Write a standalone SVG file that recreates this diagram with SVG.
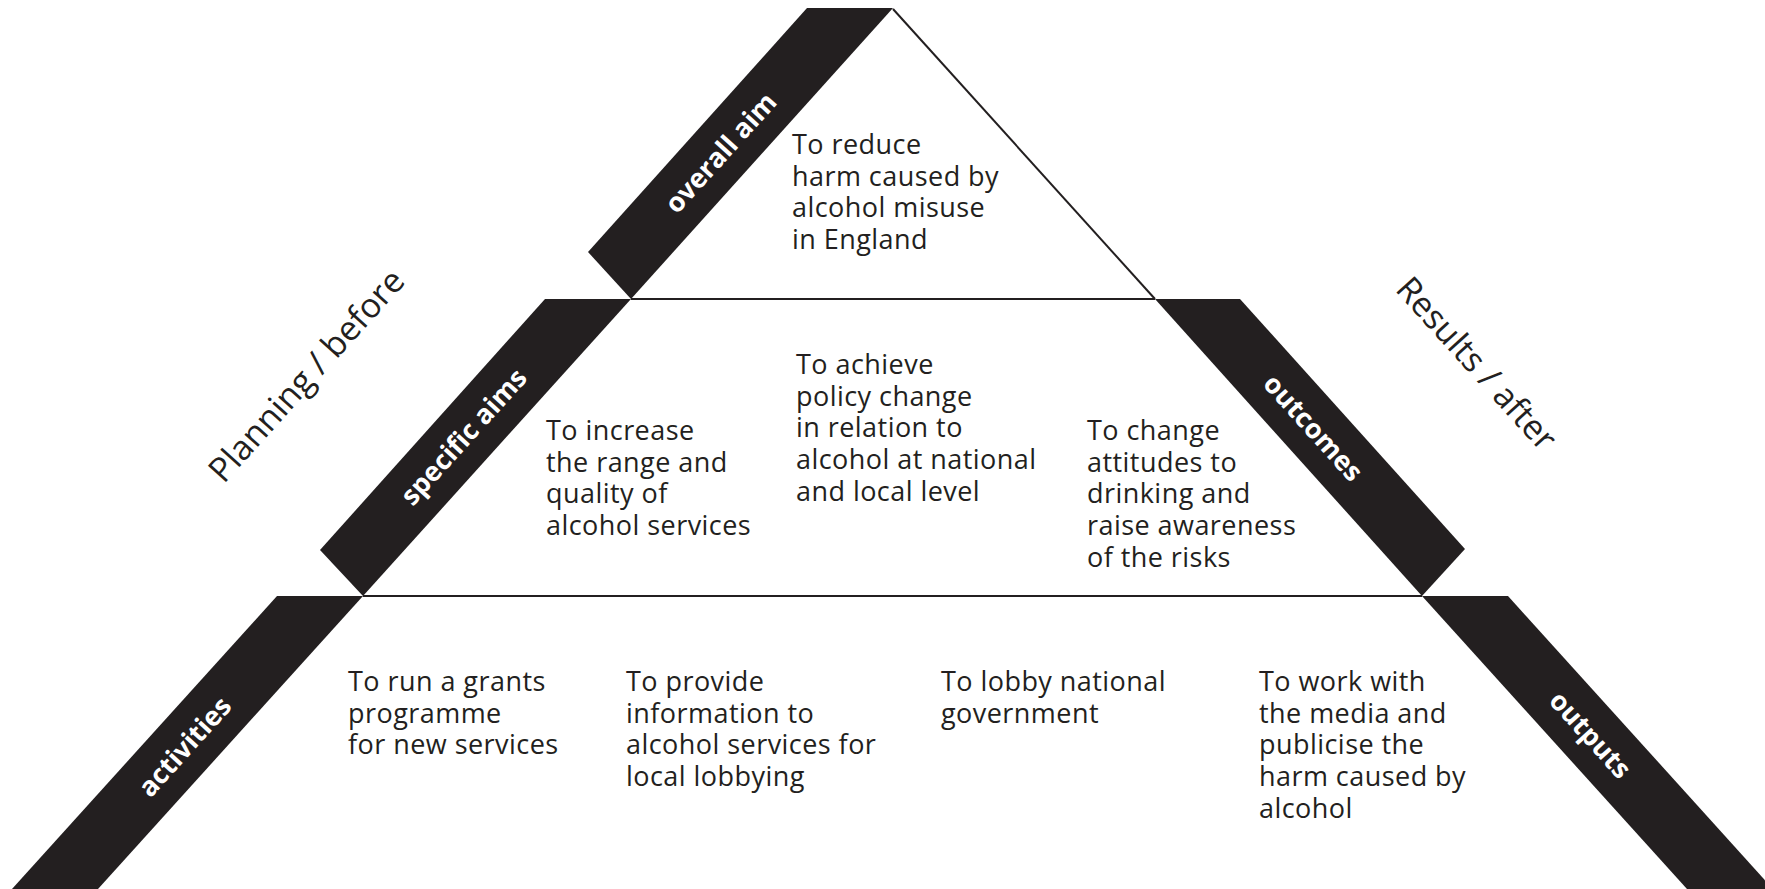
<svg xmlns="http://www.w3.org/2000/svg" width="1765" height="889" viewBox="0 0 1765 889">
  <style>
    .band { fill: #231f20; }
    .edge { stroke: #231f20; stroke-width: 2; fill: none; }
    .body { font-family: "Open Sans", "Noto Sans", "Liberation Sans", sans-serif; font-size: 27px; letter-spacing: 0.45px; fill: #231f20; }
    .tag { font-family: "Open Sans", "Noto Sans", "Liberation Sans", sans-serif; font-size: 27px; font-weight: bold; fill: #ffffff; text-anchor: middle; }
    .side { font-family: "Open Sans", "Noto Sans", "Liberation Sans", sans-serif; font-size: 34px; fill: #231f20; text-anchor: middle; }
  </style>
  <rect width="1765" height="889" fill="#ffffff"/>

  <!-- outline of the pyramid tiers -->
  <g id="connectors">
    <line class="edge" x1="893" y1="9" x2="1155" y2="299"/>
    <line class="edge" x1="631" y1="299" x2="1155" y2="299"/>
    <line class="edge" x1="363" y1="596" x2="1422" y2="596"/>
  </g>

  <!-- left axis caption -->
  <g id="planning-before">
    <text class="side" transform="translate(307,376) rotate(-47.9)" y="11">Planning / before</text>
  </g>

  <!-- right axis caption -->
  <g id="results-after">
    <text class="side" transform="translate(1476,364) rotate(47.9)" y="11">Results / after</text>
  </g>

  <!-- tier 1: overall aim -->
  <g id="overall-aim">
    <polygon class="band" points="807,8 893,8 631,299 588,252"/>
    <text class="tag" transform="translate(721,153) rotate(-47.9)" y="9">overall aim</text>
    <text class="body" x="792" y="154">
      <tspan x="792" dy="0">To reduce</tspan>
      <tspan x="792" dy="31.7">harm caused by</tspan>
      <tspan x="792" dy="31.7">alcohol misuse</tspan>
      <tspan x="792" dy="31.7">in England</tspan>
    </text>
  </g>

  <!-- tier 2 left: specific aims -->
  <g id="specific-aims">
    <polygon class="band" points="545,299 631,299 363,596 320,550"/>
    <text class="tag" transform="translate(464,437) rotate(-47.9)" y="9">specific aims</text>
    <text class="body" x="546" y="440">
      <tspan x="546" dy="0">To increase</tspan>
      <tspan x="546" dy="31.7">the range and</tspan>
      <tspan x="546" dy="31.7">quality of</tspan>
      <tspan x="546" dy="31.7">alcohol services</tspan>
    </text>
    <text class="body" x="796" y="374">
      <tspan x="796" dy="0">To achieve</tspan>
      <tspan x="796" dy="31.7">policy change</tspan>
      <tspan x="796" dy="31.7">in relation to</tspan>
      <tspan x="796" dy="31.7">alcohol at national</tspan>
      <tspan x="796" dy="31.7">and local level</tspan>
    </text>
  </g>

  <!-- tier 2 right: outcomes -->
  <g id="outcomes">
    <polygon class="band" points="1155,299 1240,299 1465,549 1422,596"/>
    <text class="tag" transform="translate(1313,428) rotate(47.9)" y="9">outcomes</text>
    <text class="body" x="1087" y="440">
      <tspan x="1087" dy="0">To change</tspan>
      <tspan x="1087" dy="31.7">attitudes to</tspan>
      <tspan x="1087" dy="31.7">drinking and</tspan>
      <tspan x="1087" dy="31.7">raise awareness</tspan>
      <tspan x="1087" dy="31.7">of the risks</tspan>
    </text>
  </g>

  <!-- tier 3 left: activities -->
  <g id="activities">
    <polygon class="band" points="277,596 363,596 98,889 12,889"/>
    <text class="tag" transform="translate(185,747) rotate(-47.9)" y="9">activities</text>
    <text class="body" x="348" y="691">
      <tspan x="348" dy="0">To run a grants</tspan>
      <tspan x="348" dy="31.7">programme</tspan>
      <tspan x="348" dy="31.7">for new services</tspan>
    </text>
    <text class="body" x="626" y="691">
      <tspan x="626" dy="0">To provide</tspan>
      <tspan x="626" dy="31.7">information to</tspan>
      <tspan x="626" dy="31.7">alcohol services for</tspan>
      <tspan x="626" dy="31.7">local lobbying</tspan>
    </text>
    <text class="body" x="941" y="691">
      <tspan x="941" dy="0">To lobby national</tspan>
      <tspan x="941" dy="31.7">government</tspan>
    </text>
  </g>

  <!-- tier 3 right: outputs -->
  <g id="outputs">
    <polygon class="band" points="1422,596 1508,596 1773,889 1687,889"/>
    <text class="tag" transform="translate(1590,735) rotate(47.9)" y="9">outputs</text>
    <text class="body" x="1259" y="691">
      <tspan x="1259" dy="0">To work with</tspan>
      <tspan x="1259" dy="31.7">the media and</tspan>
      <tspan x="1259" dy="31.7">publicise the</tspan>
      <tspan x="1259" dy="31.7">harm caused by</tspan>
      <tspan x="1259" dy="31.7">alcohol</tspan>
    </text>
  </g>
</svg>
